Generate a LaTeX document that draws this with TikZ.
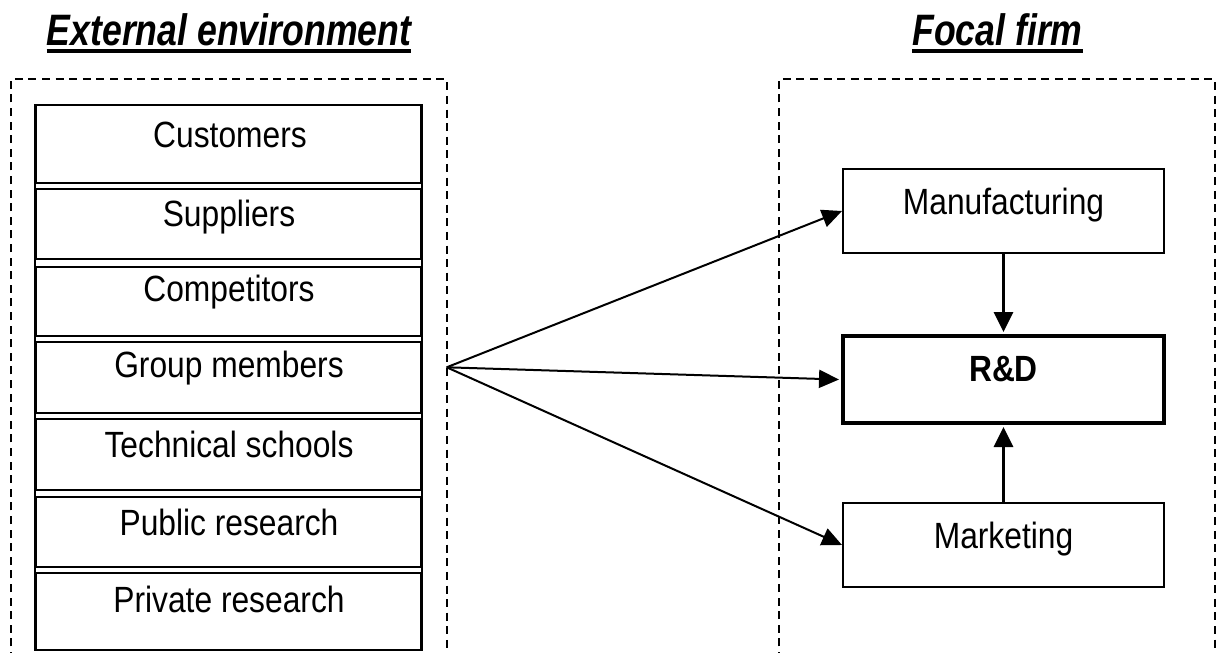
\documentclass[tikz,border=0pt]{standalone}
\usepackage{fontspec}
\setmainfont{Liberation Sans}
\newfontfamily\bodyfont[FakeStretch=0.87]{Liberation Sans}
\newfontfamily\headfont[FakeStretch=0.81]{Liberation Sans}
\usetikzlibrary{arrows.meta,calc}

\begin{document}
\begin{tikzpicture}[x=1pt,y=-1pt,
  rowbox/.style={draw,line width=2pt,minimum width=385pt,inner sep=0pt},
  unitbox/.style={draw,line width=2pt,minimum width=321pt,minimum height=84pt,inner sep=0pt},
  txt/.style={anchor=base,inner sep=0pt,font=\bodyfont\fontsize{36.5pt}{40pt}\selectfont},
  head/.style={anchor=base,inner sep=0pt,font=\headfont\bfseries\itshape\fontsize{44pt}{48pt}\selectfont},
  frame/.style={dash pattern=on 8pt off 5.6pt,line width=1.6pt},
  flow/.style={line width=2pt,-{Triangle[length=20pt,width=18pt]}},
  feed/.style={line width=3pt,-{Triangle[length=20pt,width=19pt]}},
]
\useasboundingbox (0,0) rectangle (1218,653);

% headings
\node[head] (hext) at (229,45) {External environment};
\node[head] (hfirm) at (997.5,45) {Focal firm};
\draw[line width=4.3pt] ($(hext.base west)+(0,6)$) -- ($(hext.base east)+(0,6)$);
\draw[line width=4.3pt] ($(hfirm.base west)+(0,6)$) -- ($(hfirm.base east)+(0,6)$);

% dashed frames, open at the bottom
\draw[frame] (11,660) -- (11,79) -- (446.7,79) -- (446.7,660);
\draw[frame] (779,660) -- (779,79) -- (1215,79) -- (1215,660);

% stack of external sources
\node[rowbox,minimum height=78pt]   (r1) at (228.5,144)    {};
\node[rowbox,minimum height=69.7pt] (r2) at (228.5,224.15) {};
\node[rowbox,minimum height=69pt]   (r3) at (228.5,301.2)  {};
\node[rowbox,minimum height=71.6pt] (r4) at (228.5,377.5)  {};
\node[rowbox,minimum height=70.7pt] (r5) at (228.5,454.65) {};
\node[rowbox,minimum height=70pt]   (r6) at (228.5,531.7)  {};
\node[rowbox,minimum height=76.7pt] (r7) at (228.5,611.65) {};
\draw[line width=2pt] (r1.north west) -- (r7.south west);
\draw[line width=2pt] (r1.north east) -- (r7.south east);

\node[txt] (t1) at (230,147.3) {Customers};
\node[txt] (t2) at (229,226.7) {Suppliers};
\node[txt] (t3) at (229,301.7) {Competitors};
\node[txt] (t4) at (229,377.3) {Group members};
\node[txt] (t5) at (229,457.3) {Technical schools};
\node[txt] (t6) at (229,535)   {Public research};
\node[txt] (t7) at (229,612.7) {Private research};

% functions of the focal firm
\node[unitbox] (mfg) at (1003.5,211) {};
\node[unitbox,line width=4pt,minimum height=87pt] (rd) at (1003.5,379.5) {};
\node[unitbox] (mkt) at (1003.5,545) {};
\node[txt] (tmfg) at (1003.5,214.3) {Manufacturing};
\node[txt,font=\bodyfont\bfseries\fontsize{36.5pt}{40pt}\selectfont] (trd) at (1003.5,381.7) {R\&D};
\node[txt] (tmkt) at (1003.5,548.3) {Marketing};

% knowledge flows
\coordinate (hub) at (446.7,367.3);
\draw[flow] (hub) -- (mfg.west);
\draw[flow] (hub) -- ($(rd.west)+(-2,0)$);
\draw[flow] (hub) -- (mkt.west);

\draw[feed] (mfg.south) -- ($(rd.north)+(0,-2)$);
\draw[feed] (mkt.north) -- ($(rd.south)+(0,2)$);
\end{tikzpicture}
\end{document}
